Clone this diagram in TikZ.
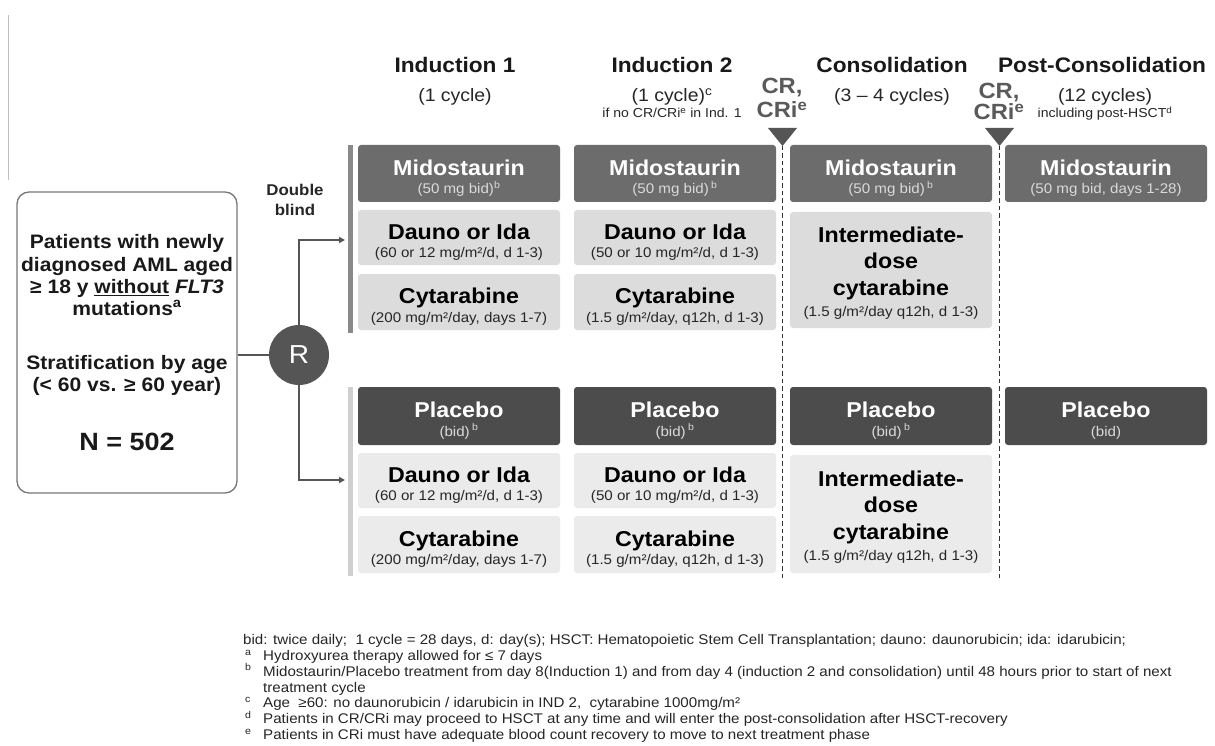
\documentclass[tikz,border=0pt]{standalone}
\usepackage{fontspec}
\setmainfont{Liberation Sans}[FakeStretch=1.08]
\usetikzlibrary{arrows.meta}
\definecolor{midgray}{HTML}{6C6C6C}
\definecolor{plagray}{HTML}{4C4C4C}
\definecolor{lightA}{HTML}{DCDCDC}
\definecolor{lightB}{HTML}{EBEBEB}
\definecolor{linegray}{HTML}{555555}
\definecolor{subgray}{HTML}{DADADA}
\definecolor{bordergray}{HTML}{777777}
\definecolor{barA}{HTML}{8A8A8A}
\definecolor{barB}{HTML}{CFCFCF}
\definecolor{crgray}{HTML}{5A5A5A}
\newcommand{\myfs}[2]{\fontsize{#1}{#2}\selectfont}
\newcommand{\bx}[1]{{\myfs{21.5}{24}\bfseries\rule{0pt}{24.5pt}#1}}
\newcommand{\sbw}[1]{{\myfs{14}{17}\color{subgray}#1}}
\newcommand{\sbk}[1]{{\myfs{14}{17}\color{black!85}#1}}
\newcommand{\fnm}[1]{\hspace*{2pt}\makebox[18pt][l]{\textsuperscript{#1}}}
\begin{document}
\begin{tikzpicture}[x=1pt,y=-1pt,
  drugbox/.style={rounded corners=3pt, minimum width=202pt, align=center, inner sep=0pt, font=\myfs{14}{18.5}},
  midbox/.style={drugbox, fill=midgray, text=white, minimum height=57pt},
  plabox/.style={drugbox, fill=plagray, text=white, minimum height=58pt},
  lightup/.style={drugbox, fill=lightA, text=black},
  lightlow/.style={drugbox, fill=lightB, text=black},
  interbox/.style={drugbox, font=\myfs{21.5}{26.5}\bfseries},
  hdr/.style={anchor=base, font=\myfs{21}{24}\bfseries, text=black!90},
  hsub/.style={anchor=base, font=\myfs{18}{22}, text=black!85},
  hnote/.style={anchor=base, font=\myfs{13}{14}, text=black!85},
  crlabel/.style={align=center, font=\bfseries, text=crgray, anchor=base},
  conn/.style={draw=linegray, line width=1.6pt},
  arr/.style={conn, -{Triangle[length=6pt,width=6pt]}},
  phase/.style={draw=black!80, line width=1.8pt, dash pattern=on 4.5pt off 3pt}
]
\useasboundingbox (0,0) rectangle (1215,746);
\fill[white] (0,0) rectangle (1215,746);
\draw[black!25, line width=0.8pt] (8,15) -- (8,180);

% patient box
\node[draw=bordergray, line width=1.3pt, rounded corners=12pt, minimum width=220pt, minimum height=301pt,
      align=center, inner sep=0pt, font=\myfs{19.5}{22.2}\bfseries, text=black!90] (pat) at (127,342.5)
  {Patients with newly\\diagnosed AML aged\\≥ 18 y \underline{without} \textit{FLT3}\\mutations\textsuperscript{a}\\[32pt]
   Stratification by age\\(< 60 vs. ≥ 60 year)\\[36pt]{\myfs{25}{30}N = 502}};

\node[circle, fill=linegray, minimum size=60pt, inner sep=0pt, text=white, font=\myfs{26}{26}] (R) at (299,355) {R};
\draw[conn] (pat.east |- R.west) -- (R.west);
\coordinate (armA) at (345,240);
\coordinate (armB) at (345,480);
\draw[arr] (R.north) |- (armA);
\draw[arr] (R.south) |- (armB);

\node[align=center, font=\myfs{15.6}{20}\bfseries, text=black!85, anchor=base] (db) at (295,215) {Double\\blind};

% bars
\draw[barA, line width=5pt] (350.5,145) -- (350.5,333);
\draw[barB, line width=5pt] (350,387) -- (350,576);

% headers
\node[hdr] (h1) at (455,73) {Induction 1};
\node[hsub] (h1s) at (455,102) {(1 cycle)};
\node[hdr] (h2) at (672,73) {Induction 2};
\node[hsub] (h2s) at (672,102) {(1 cycle)\textsuperscript{c}};
\node[hnote] (h2n) at (672,118) {if no CR/CRi\textsuperscript{e} in Ind. 1};
\node[hdr] (h3) at (892,73) {Consolidation};
\node[hsub] (h3s) at (892,102) {(3 – 4 cycles)};
\node[hdr] (h4) at (1102,73) {Post-Consolidation};
\node[hsub] (h4s) at (1105,102) {(12 cycles)};
\node[hnote] (h4n) at (1105,118) {including post-HSCT\textsuperscript{d}};

\node[crlabel, font=\myfs{22}{24}\bfseries] (cr1) at (782,118) {CR,\\CRi\textsuperscript{e}};
\node[crlabel, font=\myfs{22}{21}\bfseries] (cr2) at (999,120) {CR,\\CRi\textsuperscript{e}};

% triangles and dashed phase lines
\fill[linegray] (768,128) -- (797,128) -- (782.5,146) -- cycle;
\fill[linegray] (985,128) -- (1014,128) -- (999.5,146) -- cycle;
\coordinate (t1) at (782.5,146);
\coordinate (t2) at (999.5,146);
\coordinate (b1) at (782.5,580);
\coordinate (b2) at (999.5,580);
\draw[phase] (t1) -- (b1);
\draw[phase] (t2) -- (b2);

% upper arm
\node[midbox] (m1) at (459,173.5) {\bx{Midostaurin}\\\sbw{(50 mg bid)\textsuperscript{b}}};
\node[midbox] (m2) at (675,173.5) {\bx{Midostaurin}\\\sbw{(50 mg bid)\,\textsuperscript{b}}};
\node[midbox] (m3) at (891,173.5) {\bx{Midostaurin}\\\sbw{(50 mg bid)\,\textsuperscript{b}}};
\node[midbox] (m4) at (1106,173.5) {\bx{Midostaurin}\\\sbw{(50 mg bid, days 1-28)}};
\node[lightup, minimum height=55pt] (d1) at (459,237.5) {\bx{Dauno or Ida}\\\sbk{(60 or 12 mg/m²/d, d 1-3)}};
\node[lightup, minimum height=55pt] (d2) at (675,237.5) {\bx{Dauno or Ida}\\\sbk{(50 or 10 mg/m²/d, d 1-3)}};
\node[lightup, minimum height=56pt] (y1) at (459,302) {\bx{Cytarabine}\\\sbk{(200 mg/m²/day, days 1-7)}};
\node[lightup, minimum height=56pt] (y2) at (675,302) {\bx{Cytarabine}\\\sbk{(1.5 g/m²/day, q12h, d 1-3)}};
\node[lightup, interbox, minimum height=116pt] (i3) at (891,270) {\rule{0pt}{22pt}Intermediate-\\dose\\cytarabine\\[-5pt]\sbk{\mdseries (1.5 g/m²/day q12h, d 1-3)}};

% lower arm
\node[plabox] (p1) at (459,416) {\bx{Placebo}\\\sbw{(bid)\,\textsuperscript{b}}};
\node[plabox] (p2) at (675,416) {\bx{Placebo}\\\sbw{(bid)\,\textsuperscript{b}}};
\node[plabox] (p3) at (891,416) {\bx{Placebo}\\\sbw{(bid)\,\textsuperscript{b}}};
\node[plabox] (p4) at (1106,416) {\bx{Placebo}\\\sbw{(bid)}};
\node[lightlow, minimum height=55pt] (dl1) at (459,480.5) {\bx{Dauno or Ida}\\\sbk{(60 or 12 mg/m²/d, d 1-3)}};
\node[lightlow, minimum height=55pt] (dl2) at (675,480.5) {\bx{Dauno or Ida}\\\sbk{(50 or 10 mg/m²/d, d 1-3)}};
\node[lightlow, minimum height=57pt] (yl1) at (459,544.5) {\bx{Cytarabine}\\\sbk{(200 mg/m²/day, days 1-7)}};
\node[lightlow, minimum height=57pt] (yl2) at (675,544.5) {\bx{Cytarabine}\\\sbk{(1.5 g/m²/day, q12h, d 1-3)}};
\node[lightlow, interbox, minimum height=118pt] (il3) at (891,514) {\rule{0pt}{22pt}Intermediate-\\dose\\cytarabine\\[-5pt]\sbk{\mdseries (1.5 g/m²/day q12h, d 1-3)}};

% footnotes
\node[anchor=north west, align=left, inner sep=0pt, font=\myfs{14}{15.9}, text=black!85] (fn) at (243,634)
 {bid: twice daily;\ \ 1 cycle = 28 days, d: day(s); HSCT: Hematopoietic Stem Cell Transplantation; dauno: daunorubicin; ida: idarubicin;\\
  \fnm{a}Hydroxyurea therapy allowed for ≤ 7 days\\
  \fnm{b}Midostaurin/Placebo treatment from day 8(Induction 1) and from day 4 (induction 2 and consolidation) until 48 hours prior to start of next\\
  \hspace*{20pt}treatment cycle\\
  \fnm{c}Age\ \ ≥60: no daunorubicin / idarubicin in IND 2,\ \ cytarabine 1000mg/m²\\
  \fnm{d}Patients in CR/CRi may proceed to HSCT at any time and will enter the post-consolidation after HSCT-recovery\\
  \fnm{e}Patients in CRi must have adequate blood count recovery to move to next treatment phase};
\end{tikzpicture}
\end{document}
